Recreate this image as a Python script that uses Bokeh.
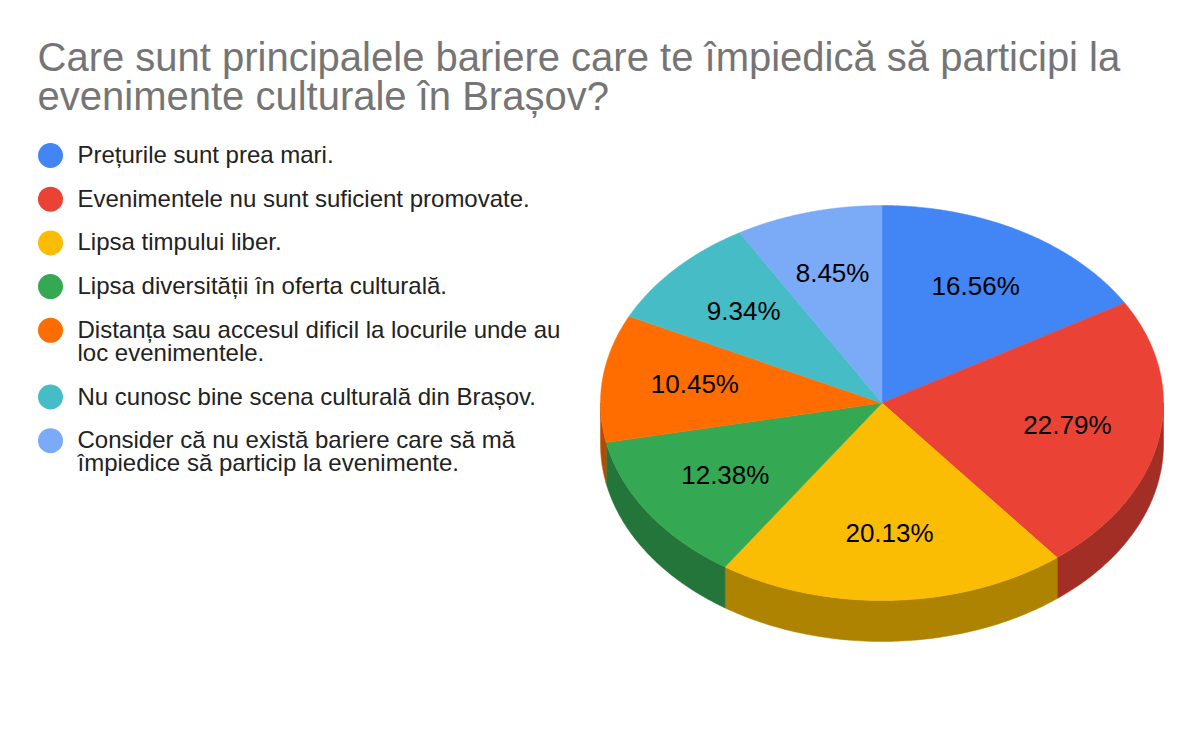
import numpy as np
from bokeh.plotting import figure
from bokeh.models import Range1d
from bokeh.core.properties import value
from bokeh.embed import file_html
from bokeh.resources import INLINE

# ---- data ----
title_lines = [
    "Care sunt principalele bariere care te împiedică să participi la",
    "evenimente culturale în Brașov?",
]
categories = [
    "Prețurile sunt prea mari.",
    "Evenimentele nu sunt suficient promovate.",
    "Lipsa timpului liber.",
    "Lipsa diversității în oferta culturală.",
    "Distanța sau accesul dificil la locurile unde au\nloc evenimentele.",
    "Nu cunosc bine scena culturală din Brașov.",
    "Consider că nu există bariere care să mă\nîmpiedice să particip la evenimente.",
]
percentages = [16.56, 22.79, 20.13, 12.38, 10.45, 9.34, 8.45]
colors = ["#4285f4", "#ea4335", "#fbbc04", "#34a853", "#ff6d01", "#46bdc6", "#7baaf7"]

# ---- layout ----
W, H = 1184, 726
FONT = value("Liberation Sans")
cx, cy, rx, ry, depth = 881.5, 402.5, 281.5, 197.5, 41.0


def darker(hexc, f=0.7):
    r, g, b = (int(hexc[i:i + 2], 16) for i in (1, 3, 5))
    return "#%02x%02x%02x" % (int(r * f), int(g * f), int(b * f))


p = figure(width=W, height=H, output_backend="svg", toolbar_location=None,
           x_range=Range1d(0, W), y_range=Range1d(H, 0),
           min_border=0, outline_line_color=None, background_fill_color="white")
p.axis.visible = False
p.grid.visible = False

vals = np.array(percentages, dtype=float)
fr = vals / vals.sum()
ends = np.cumsum(fr) * 360.0
starts = ends - fr * 360.0


def ell(theta_deg, f=1.0, dy=0.0):
    t = np.radians(theta_deg)
    return cx + f * rx * np.sin(t), cy - f * ry * np.cos(t) + dy


# side faces (front half only: theta in [90, 270])
side_xs, side_ys, side_cols = [], [], []
for a0, a1, c in zip(starts, ends, colors):
    s0, s1 = max(a0, 90.0), min(a1, 270.0)
    if s1 > s0:
        th = np.linspace(s0, s1, 80)
        x, y = ell(th)
        xb, yb = ell(th[::-1], dy=depth)
        side_xs.append(list(np.concatenate([x, xb])))
        side_ys.append(list(np.concatenate([y, yb])))
        side_cols.append(darker(c))
p.patches(side_xs, side_ys, fill_color=side_cols, line_color=side_cols, line_width=0.5)

# top faces
top_xs, top_ys = [], []
for a0, a1 in zip(starts, ends):
    th = np.linspace(a0, a1, 120)
    x, y = ell(th)
    top_xs.append([cx] + list(x))
    top_ys.append([cy] + list(y))
p.patches(top_xs, top_ys, fill_color=colors, line_color=colors, line_width=0.5)

# slice labels
mids = (starts + ends) / 2.0
lx, ly = ell(mids, f=0.67)
p.text(x=list(lx), y=list(ly - 2), text=[f"{v:.2f}%" for v in percentages],
       text_font=FONT, text_font_size=value("26px"), text_color="#000000",
       text_align="center", text_baseline="middle")

# title
p.text(x=[37, 37], y=[56, 95], text=title_lines, text_font=FONT,
       text_font_size=value("40px"), text_color="#757575",
       text_align="left", text_baseline="alphabetic")

# legend
row_y, tx, ty, tt = [], [], [], []
y = 155.0
for cat in categories:
    lines = cat.split("\n")
    row_y.append(y)
    for k, ln in enumerate(lines):
        tx.append(77)
        ty.append(y - 1 + 23 * k)
        tt.append(ln)
    y += 43.7 + 23 * (len(lines) - 1)
p.scatter(x=[50] * len(categories), y=row_y, size=25, marker="circle",
          fill_color=colors, line_color=None)
p.text(x=tx, y=ty, text=tt, text_font=FONT, text_font_size=value("24px"),
       text_color="#222222", text_align="left", text_baseline="alphabetic")

open("out.html", "w").write(file_html(p, INLINE))
